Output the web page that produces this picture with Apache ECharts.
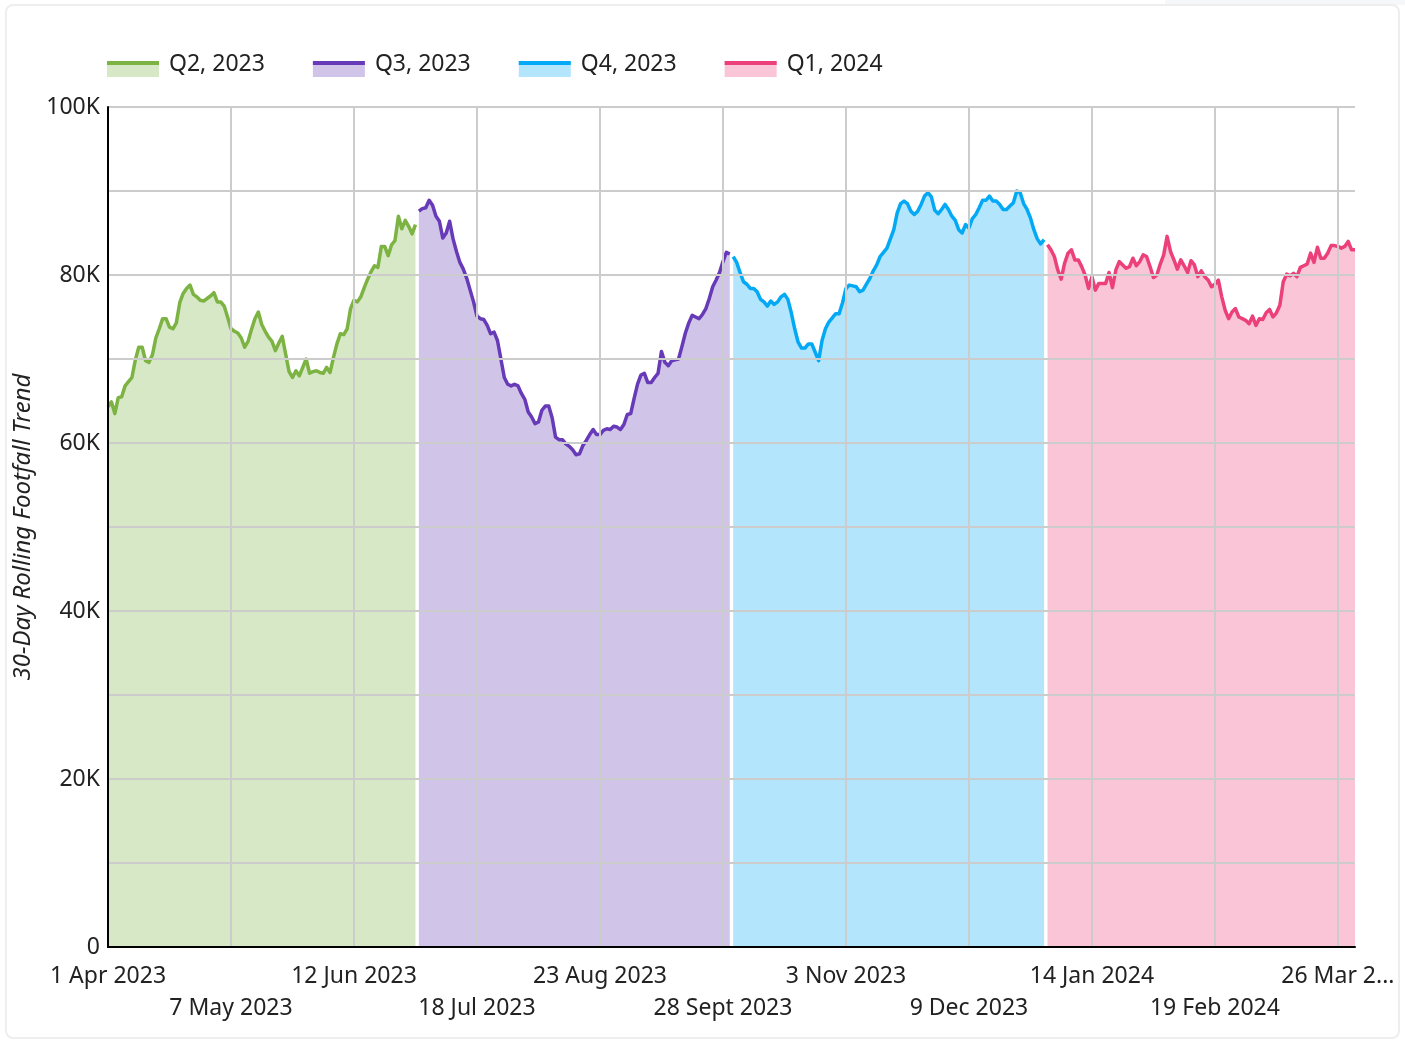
<!DOCTYPE html>
<html>
<head>
<meta charset="utf-8">
<script src="https://cdn.jsdelivr.net/npm/echarts@6/dist/echarts.min.js"></script>
<style>
html,body{margin:0;padding:0;background:#fff;width:1405px;height:1041px;overflow:hidden;}
#strip{position:absolute;left:1165px;top:0;width:240px;height:5px;background:#f6f7f9;}
#card{position:absolute;left:5px;top:4px;width:1395px;height:1035px;border:2px solid #eeeeee;border-radius:8px;box-sizing:border-box;background:#fff;}
#chart{position:absolute;left:0;top:0;width:1405px;height:1041px;}
</style>
</head>
<body>
<div id="strip"></div>
<div id="card"></div>
<div id="chart"></div>
<script>
// ---- Data (values in thousands) ----
const startDate = [2023, 3, 1]; // 1 Apr 2023
const dayCount = 366;
const monthNames = ['Jan','Feb','Mar','Apr','May','Jun','Jul','Aug','Sept','Oct','Nov','Dec'];
const seriesNames = ['Q2, 2023', 'Q3, 2023', 'Q4, 2023', 'Q1, 2024'];
const seriesStart = [0, 91, 183, 275];
const yTicks = [0, 20, 40, 60, 80, 100];
const yAxisTitle = '30-Day Rolling Footfall Trend';

const q2_2023 = [64.3,64.9,63.5,65.4,65.5,66.8,67.3,67.8,69.9,71.4,71.4,69.8,69.6,70.5,72.5,73.6,74.8,74.8,73.8,73.6,
74.3,76.7,77.8,78.4,78.8,77.7,77.4,77.0,76.9,77.2,77.5,77.9,76.8,76.8,76.3,75.0,73.6,73.3,73.1,72.5,
71.4,72.1,73.5,74.8,75.6,74.1,73.3,72.6,72.1,71.0,71.9,72.7,70.6,68.5,67.8,68.6,68.0,69.0,70.0,68.3,
68.5,68.6,68.4,68.3,69.0,68.4,70.2,71.8,73.0,72.9,73.6,76.0,77.0,76.8,77.4,78.5,79.5,80.4,81.1,80.9,
83.4,83.4,82.3,83.6,84.1,87.0,85.5,86.5,85.8,84.9,86.0];

const q3_2023 = [87.6,87.9,88.0,88.9,88.3,87.0,86.4,84.4,85.0,86.4,84.3,82.8,81.5,80.7,79.6,78.2,76.8,75.1,74.8,74.7,
74.0,73.0,73.2,72.2,70.0,67.8,67.0,66.8,67.0,66.8,65.9,65.2,63.7,63.1,62.3,62.5,63.9,64.4,64.4,63.0,
60.7,60.4,60.4,59.9,59.6,59.2,58.6,58.7,59.7,60.3,61.0,61.6,61.0,61.0,61.5,61.7,61.6,62.0,61.9,61.6,
62.2,63.4,63.5,65.3,67.0,68.1,68.3,67.2,67.2,67.8,68.3,70.9,69.6,69.2,69.8,69.9,70.0,71.5,73.1,74.3,
75.2,75.0,74.8,75.3,76.0,77.2,78.6,79.4,80.3,81.6,82.7,82.5];

const q4_2023 = [82.2,81.5,80.3,79.2,78.9,78.4,78.4,78.0,77.1,76.8,76.3,76.9,76.5,76.8,77.4,77.7,77.1,75.5,73.6,72.0,
71.3,71.3,71.8,71.8,70.8,69.8,72.2,73.6,74.4,74.9,75.4,75.4,76.7,78.4,78.8,78.7,78.6,78.0,78.2,78.9,
79.6,80.5,81.2,82.2,82.7,83.2,84.3,85.4,87.4,88.5,88.8,88.5,87.6,87.2,87.6,88.4,89.4,89.8,89.3,87.7,
87.3,87.8,88.4,87.8,87.0,86.5,85.4,85.0,86.0,85.6,86.7,87.2,88.0,88.9,88.9,89.4,88.8,88.8,88.4,87.8,
87.8,88.2,88.6,90.0,89.8,88.5,87.8,86.8,85.4,84.3,83.7,84.2];

const q1_2024 = [83.6,83.0,82.2,80.6,79.5,81.4,82.6,83.0,81.8,81.8,81.0,80.0,78.4,79.8,78.2,79.0,79.0,79.0,80.3,78.5,
80.6,81.6,81.2,80.8,81.0,82.0,81.1,81.6,82.4,82.2,81.0,79.7,80.0,81.3,82.4,84.6,82.8,81.8,80.7,81.8,
81.1,80.3,81.7,81.2,79.8,80.5,79.8,79.4,78.6,78.9,79.4,77.4,75.8,74.8,75.6,76.0,75.0,74.8,74.6,74.2,
75.1,74.0,74.8,74.7,75.5,75.9,75.0,75.5,76.4,79.2,80.1,79.9,80.2,79.8,80.9,81.1,81.3,82.6,81.5,83.3,
82.0,82.0,82.6,83.5,83.5,83.4,83.2,83.4,84.0,83.0,83.0];

const lineColors = ['#7cb342', '#673ab7', '#03a9f4', '#ec407a'];

// ---- Build ----
const categories = [];
for (let i = 0; i < dayCount; i++) {
  const d = new Date(Date.UTC(startDate[0], startDate[1], startDate[2] + i));
  categories.push(d.getUTCDate() + ' ' + monthNames[d.getUTCMonth()] + ' ' + d.getUTCFullYear());
}
const quarterValues = [q2_2023, q3_2023, q4_2023, q1_2024];

function hexToRgba(hex, a) {
  const n = parseInt(hex.slice(1), 16);
  return 'rgba(' + ((n >> 16) & 255) + ',' + ((n >> 8) & 255) + ',' + (n & 255) + ',' + a + ')';
}
const fillColors = lineColors.map(c => hexToRgba(c, 0.3));

const series = quarterValues.map((vals, k) => ({
  name: seriesNames[k],
  type: 'line',
  data: new Array(seriesStart[k]).fill(null).concat(vals),
  showSymbol: false,
  symbol: 'none',
  connectNulls: false,
  color: lineColors[k],
  lineStyle: { width: 3.5, color: lineColors[k], join: 'round' },
  areaStyle: { color: fillColors[k], opacity: 1 },
  emphasis: { disabled: true },
  z: 2
}));

const labelFont = '"Noto Sans", "Open Sans", sans-serif';
const LABEL_EVERY = 36;
const FS = 23;

const legendBase = {
  left: 107, top: 51, padding: 0,
  itemWidth: 52, itemHeight: 26, itemGap: 48,
  itemStyle: { borderWidth: 0 },
  selectedMode: false
};

const chart = echarts.init(document.getElementById('chart'), null, { renderer: 'canvas' });
chart.setOption({
  animation: false,
  backgroundColor: 'transparent',
  textStyle: { fontFamily: labelFont },
  grid: { left: 108, right: 50, top: 107, bottom: 94, containLabel: false },
  legend: [
    Object.assign({}, legendBase, {
      icon: 'path://M0,0L52,0M0,10H52V26H0Z',
      textStyle: { fontSize: FS, color: '#222', fontFamily: labelFont, padding: [0, 0, 0, 5] },
      data: seriesNames.map((n, k) => ({ name: n, itemStyle: { color: fillColors[k], borderWidth: 0 } }))
    }),
    Object.assign({}, legendBase, {
      icon: 'path://M0,0L52,0M0,10H52V14H0ZM0,26L52,26',
      textStyle: { fontSize: FS, color: 'rgba(0,0,0,0)', fontFamily: labelFont, padding: [0, 0, 0, 5] },
      data: seriesNames.map((n, k) => ({ name: n, itemStyle: { color: lineColors[k], borderWidth: 0 } }))
    })
  ],
  xAxis: {
    type: 'category',
    data: categories,
    boundaryGap: false,
    axisLine: { show: true, lineStyle: { color: '#000', width: 2 } },
    axisTick: { show: false },
    axisLabel: {
      interval: LABEL_EVERY - 1,
      fontSize: FS,
      color: '#222',
      fontFamily: labelFont,
      lineHeight: 32,
      margin: 13,
      formatter: function (value, index) {
        let txt = value;
        if (index === 360) txt = value.slice(0, 8) + '...';
        const group = Math.round(index / LABEL_EVERY);
        return group % 2 === 1 ? '\n' + txt : txt;
      }
    },
    splitLine: { show: true, interval: LABEL_EVERY - 1, lineStyle: { color: '#cccccc', width: 2 } },
    z: 3
  },
  yAxis: {
    type: 'value',
    min: 0,
    max: 100,
    interval: 10,
    name: yAxisTitle,
    nameLocation: 'middle',
    nameGap: 67,
    nameTextStyle: { fontSize: 24, fontStyle: 'italic', color: '#222', fontFamily: labelFont },
    axisLine: { show: true, lineStyle: { color: '#000', width: 2 } },
    axisTick: { show: false },
    axisLabel: {
      fontSize: FS,
      color: '#222',
      fontFamily: labelFont,
      margin: 8,
      formatter: function (v) {
        if (yTicks.indexOf(v) < 0) return '';
        return v === 0 ? '0' : v + 'K';
      }
    },
    splitLine: { show: true, lineStyle: { color: '#cccccc', width: 2 } },
    z: 3
  },
  series: series
});
</script>
</body>
</html>
